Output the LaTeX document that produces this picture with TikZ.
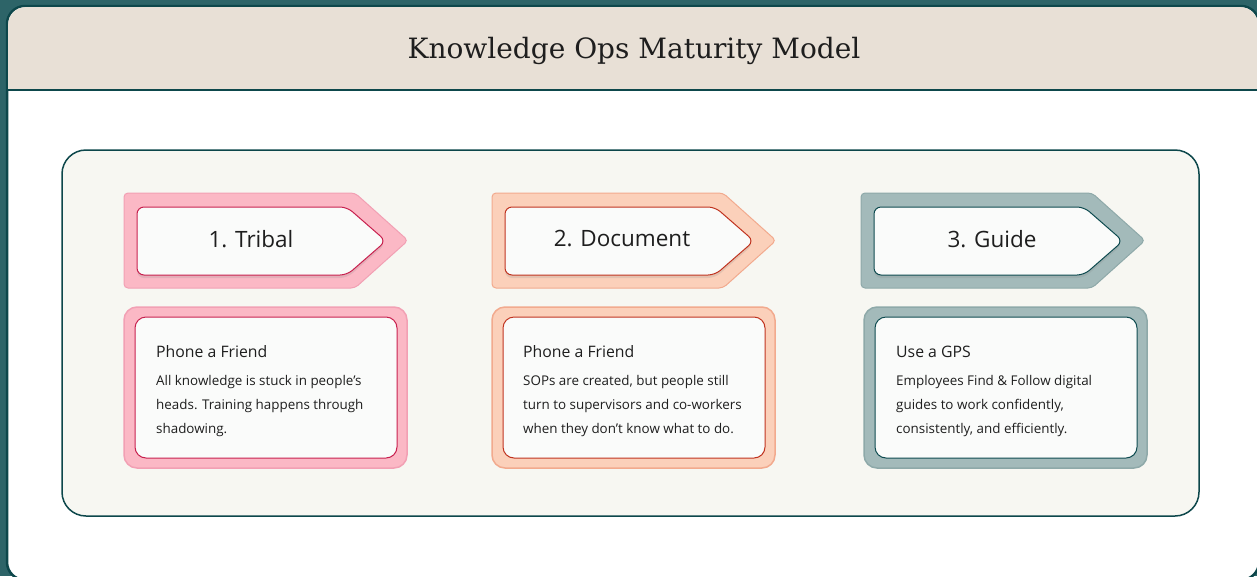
\documentclass[tikz,border=0pt]{standalone}
\usepackage{fontspec}
\setmainfont{Open Sans}
\newfontfamily\titlefont{DejaVu Serif}
\usetikzlibrary{shadows}

\definecolor{deskteal}{HTML}{2D6468}
\definecolor{frameline}{HTML}{0D474B}
\definecolor{headband}{HTML}{E8E0D6}
\definecolor{panelfill}{HTML}{F7F7F2}
\definecolor{paper}{HTML}{FAFBFA}
\definecolor{inktext}{HTML}{1E1E1E}
\definecolor{pinkfill}{HTML}{FBB8C5}
\definecolor{pinkedge}{HTML}{F2A0B4}
\definecolor{pinkline}{HTML}{C8204E}
\definecolor{peachfill}{HTML}{FBD0BA}
\definecolor{peachedge}{HTML}{F2AA8E}
\definecolor{peachline}{HTML}{C0331F}
\definecolor{slatefill}{HTML}{A3BABA}
\definecolor{slateedge}{HTML}{8EA9A9}
\definecolor{slateline}{HTML}{0D4A4F}

\begin{document}
\begin{tikzpicture}[x=1pt, y=-1pt,
    tagouter/.style = {line width=1pt, rounded corners=4pt},
    taginner/.style = {fill=paper, line width=1pt, rounded corners=7pt,
        drop shadow={opacity=0.18, shadow xshift=0pt, shadow yshift=-3pt}},
    cardouter/.style = {line width=1.5pt, rounded corners=13pt},
    cardinner/.style = {fill=paper, line width=1pt, rounded corners=11pt},
    taglabel/.style = {text=inktext, font=\fontsize{22.5}{26}\selectfont},
    cardhead/.style = {anchor=base west, inner sep=0pt, text=inktext,
        font=\fontsize{15.8}{18}\selectfont},
    cardbody/.style = {anchor=base west, inner sep=0pt, align=left, text=inktext,
        font=\fontsize{13.4}{24}\selectfont}]
\useasboundingbox (0,0) rectangle (1257,576);

% page and frame
\fill[deskteal] (0,0) rectangle (1257,576);
\draw[frameline, line width=2.5pt, fill=white, rounded corners=18pt]
    (7,6) rectangle (1259,580);
\fill[headband] (8.2,90) [rounded corners=17pt]-- (8.2,7.2) -- (1257.8,7.2)
    [sharp corners]-- (1257.8,90) -- cycle;
\draw[frameline, line width=2.5pt] (7,90) -- (1259,90);
\node[text=inktext, font=\titlefont\fontsize{28}{32}\selectfont] (title)
    at (634,51) {Knowledge Ops Maturity Model};

% inner panel
\draw[frameline, line width=1.5pt, fill=panelfill, rounded corners=24pt]
    (62,150) rectangle (1199,516);

% arrow tags
\foreach \x/\c in {124/pink, 492/peach, 861/slate} {
    \draw[tagouter, draw=\c edge, fill=\c fill]
        (\x,193) -- (\x+231,193) -- (\x+284,240.5) -- (\x+231,288)
        -- (\x,288) -- cycle;
    \draw[taginner, draw=\c line]
        (\x+13,207) -- (\x+223,207) -- (\x+262,241) -- (\x+223,275)
        -- (\x+13,275) -- cycle;
}

% cards
\foreach \x/\c in {124/pink, 492/peach, 864/slate} {
    \draw[cardouter, draw=\c edge, fill=\c fill] (\x,307) rectangle (\x+283,468);
    \draw[cardinner, draw=\c line] (\x+11,317) rectangle (\x+273,458);
}

\node[taglabel] (t1) at (251,239) {1. Tribal};
\node[taglabel] (t2) at (622,239) {2. Document};
\node[taglabel] (t3) at (992,239) {3. Guide};

\node[cardhead] (h1) at (156,357) {Phone a Friend};
\node[cardhead] (h2) at (523,357) {Phone a Friend};
\node[cardhead] (h3) at (896,357) {Use a GPS};

% body nodes sit on the baseline of their last line
\node[cardbody] (b1) at (156,433) {All knowledge is stuck in people’s\\
    heads. Training happens through\\ shadowing.};
\node[cardbody] (b2) at (523,433) {SOPs are created, but people still\\
    turn to supervisors and co-workers\\ when they don’t know what to do.};
\node[cardbody] (b3) at (896,433) {Employees Find \& Follow digital\\
    guides to work confidently,\\ consistently, and efficiently.};
\end{tikzpicture}
\end{document}
